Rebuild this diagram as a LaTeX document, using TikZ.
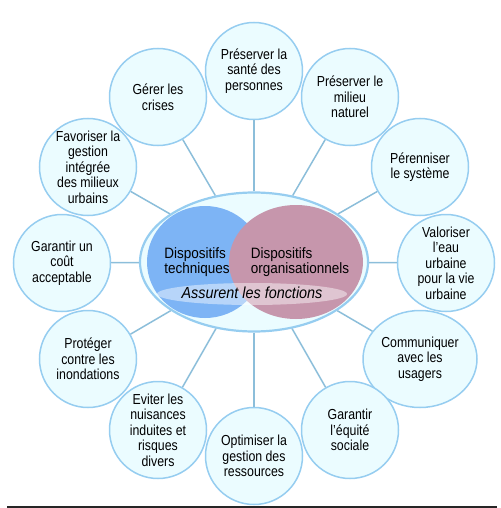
\documentclass[tikz,border=0pt]{standalone}
\usepackage{fontspec}
\setmainfont{Liberation Sans}[FakeStretch=0.85]
\newfontfamily\centerfont{Liberation Sans}[FakeStretch=0.9]
\usepackage{tikz}
\usetikzlibrary{shapes.geometric}
\definecolor{paleaqua}{RGB}{235,252,255}
\definecolor{rimblue}{RGB}{150,205,240}
\definecolor{linkblue}{RGB}{140,190,218}
\definecolor{techblue}{RGB}{125,180,245}
\definecolor{orgmauve}{RGB}{198,150,172}

\begin{document}
\begin{tikzpicture}[x=1pt,y=-1pt,
    fonction/.style={circle,draw=rimblue,line width=1.5pt,fill=paleaqua,minimum size=97pt,inner sep=0pt,align=center,font=\fontsize{14.5}{15.5}\selectfont},
    lien/.style={draw=linkblue,line width=1.5pt}]
                \useasboundingbox (0,0) rectangle (500,508);
                %Centre
                \node[ellipse,draw=rimblue,line width=2.2pt,fill=paleaqua,minimum width=228pt,minimum height=139pt,inner sep=0pt] (coeur) at (254,262) {};
                \fill[techblue] (205,262) ellipse [x radius=58pt, y radius=56pt];
                \fill[orgmauve] (296,262) ellipse [x radius=67pt, y radius=57pt];
                \fill[white,opacity=0.45] (252,294) ellipse [x radius=95pt, y radius=11pt];
                \node[align=left,font=\centerfont\fontsize{15}{15.5}\selectfont] (tech) at (197,262) {Dispositifs\\techniques};
                \node[align=left,font=\centerfont\fontsize{15}{15.5}\selectfont] (orga) at (300,262) {Dispositifs\\organisationnels};
                \node[font=\centerfont\itshape\fontsize{16}{17}\selectfont] (assure) at (252,293) {Assurent les fonctions};
                %Fonctions
                \node[fonction] (sante) at (254,71) {Pr\'eserver la\\sant\'e des\\personnes};
                \node[fonction] (milieu) at (350,97) {Pr\'eserver le\\milieu\\naturel};
                \node[fonction] (systeme) at (420,167) {P\'erenniser\\le syst\`eme};
                \node[fonction] (eau) at (446,263) {Valoriser\\l'eau\\urbaine\\pour la vie\\urbaine};
                \node[fonction,ellipse,minimum width=114pt,minimum height=97pt] (usagers) at (420,359) {Communiquer\\avec les\\usagers};
                \node[fonction] (equite) at (350,430) {Garantir\\l'\'equit\'e\\sociale};
                \node[fonction] (ressources) at (254,456) {Optimiser la\\gestion des\\ressources};
                \node[fonction] (nuisances) at (158,430) {Eviter les\\nuisances\\induites et\\risques\\divers};
                \node[fonction] (inondations) at (88,359) {Prot\'eger\\contre les\\inondations};
                \node[fonction] (cout) at (62,263) {Garantir un\\co\^ut\\acceptable};
                \node[fonction] (gestion) at (88,167) {Favoriser la\\gestion\\int\'egr\'ee\\des milieux\\urbains};
                \node[fonction] (crises) at (158,97) {G\'erer les\\crises};
                %Liens
                \draw[lien] (coeur) -- (sante);
                \draw[lien] (coeur) -- (milieu);
                \draw[lien] (coeur) -- (systeme);
                \draw[lien] (coeur) -- (eau);
                \draw[lien] (coeur) -- (usagers);
                \draw[lien] (coeur) -- (equite);
                \draw[lien] (coeur) -- (ressources);
                \draw[lien] (coeur) -- (nuisances);
                \draw[lien] (coeur) -- (inondations);
                \draw[lien] (coeur) -- (cout);
                \draw[lien] (coeur) -- (gestion);
                \draw[lien] (coeur) -- (crises);
                %Trait
                \draw[line width=1.5pt,black!85] (7,507) -- (497,507);
            \end{tikzpicture}
\end{document}
